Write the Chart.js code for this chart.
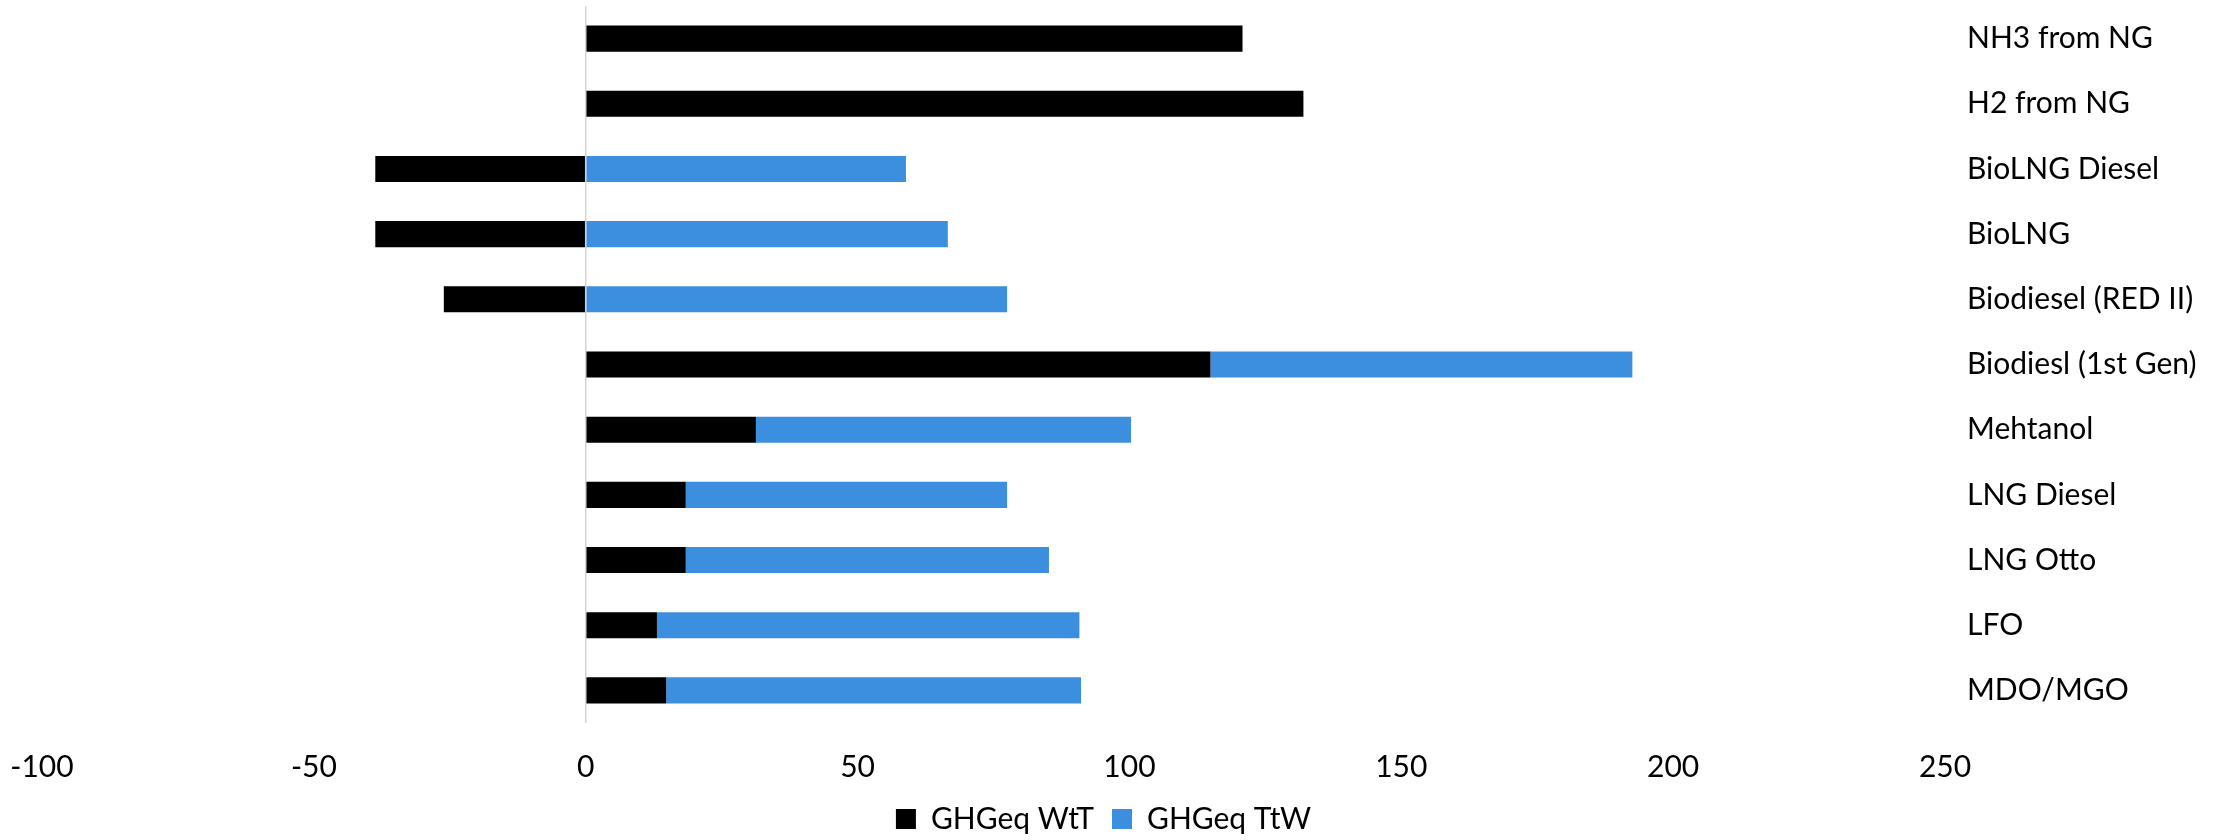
<!DOCTYPE html>
<html>
<head>
<meta charset="utf-8">
<script src="https://cdn.jsdelivr.net/npm/chart.js@4.4.1/dist/chart.umd.min.js"></script>
<style>
  html, body { margin: 0; padding: 0; background: #fff; }
  #wrap { width: 2223px; height: 840px; }
</style>
</head>
<body>
<div id="wrap"><canvas id="chart" width="2223" height="840"></canvas></div>
<script>
const fuels = ['NH3 from NG', 'H2 from NG', 'BioLNG Diesel', 'BioLNG', 'Biodiesel (RED II)',
  'Biodiesl (1st Gen)', 'Mehtanol', 'LNG Diesel', 'LNG Otto', 'LFO', 'MDO/MGO'];
const wtt = [120.8, 132.0, -38.7, -38.7, -26.1, 114.9, 31.3, 18.4, 18.4, 13.1, 14.8];
const ttw = [0, 0, 58.9, 66.6, 77.5, 77.6, 69.0, 59.1, 66.8, 77.7, 76.3];
const xTicks = [-100, -50, 0, 50, 100, 150, 200, 250];

const FONT = 'Lato, "Open Sans", sans-serif';

const ctx = document.getElementById('chart').getContext('2d');
const chart = new Chart(ctx, {
  type: 'bar',
  data: {
    labels: fuels,
    datasets: [
      { label: 'GHGeq WtT', data: wtt, backgroundColor: '#000000', borderWidth: 0 },
      { label: 'GHGeq TtW', data: ttw, backgroundColor: '#3c8ede', borderWidth: 0 }
    ]
  },
  options: {
    indexAxis: 'y',
    responsive: false,
    animation: false,
    devicePixelRatio: 1,
    datasets: { bar: { barPercentage: 0.4, categoryPercentage: 1.0 } },
    layout: { padding: { left: 0, top: 6, right: 16, bottom: -4 } },
    scales: {
      x: {
        stacked: true,
        min: xTicks[0],
        max: xTicks[xTicks.length - 1],
        afterBuildTicks: (scale) => { scale.ticks = xTicks.map(v => ({ value: v })); },
        afterFit: (scale) => {
          scale.height = 63;
          scale.paddingLeft = 42;
          scale.paddingRight = 0;
        },
        grid: {
          drawTicks: false,
          color: (c) => (c.tick && c.tick.value === 0) ? '#d4d4d4' : 'rgba(0,0,0,0)',
          lineWidth: 1.5
        },
        border: { display: false },
        ticks: { color: '#000', padding: 26, font: { family: FONT, size: 30 } }
      },
      y: {
        stacked: true,
        position: 'right',
        grid: { display: false, drawTicks: false },
        border: { display: false },
        afterFit: (scale) => {
          scale.width = 262;
          scale.paddingTop = 0;
          scale.paddingBottom = 0;
        },
        ticks: { color: '#000', padding: 22, font: { family: FONT, size: 30 } }
      }
    },
    plugins: {
      tooltip: { enabled: false },
      legend: {
        position: 'bottom',
        labels: {
          color: '#000',
          boxWidth: 20,
          boxHeight: 20,
          padding: 18,
          font: { family: FONT, size: 30 }
        }
      }
    }
  }
});
</script>
</body>
</html>
